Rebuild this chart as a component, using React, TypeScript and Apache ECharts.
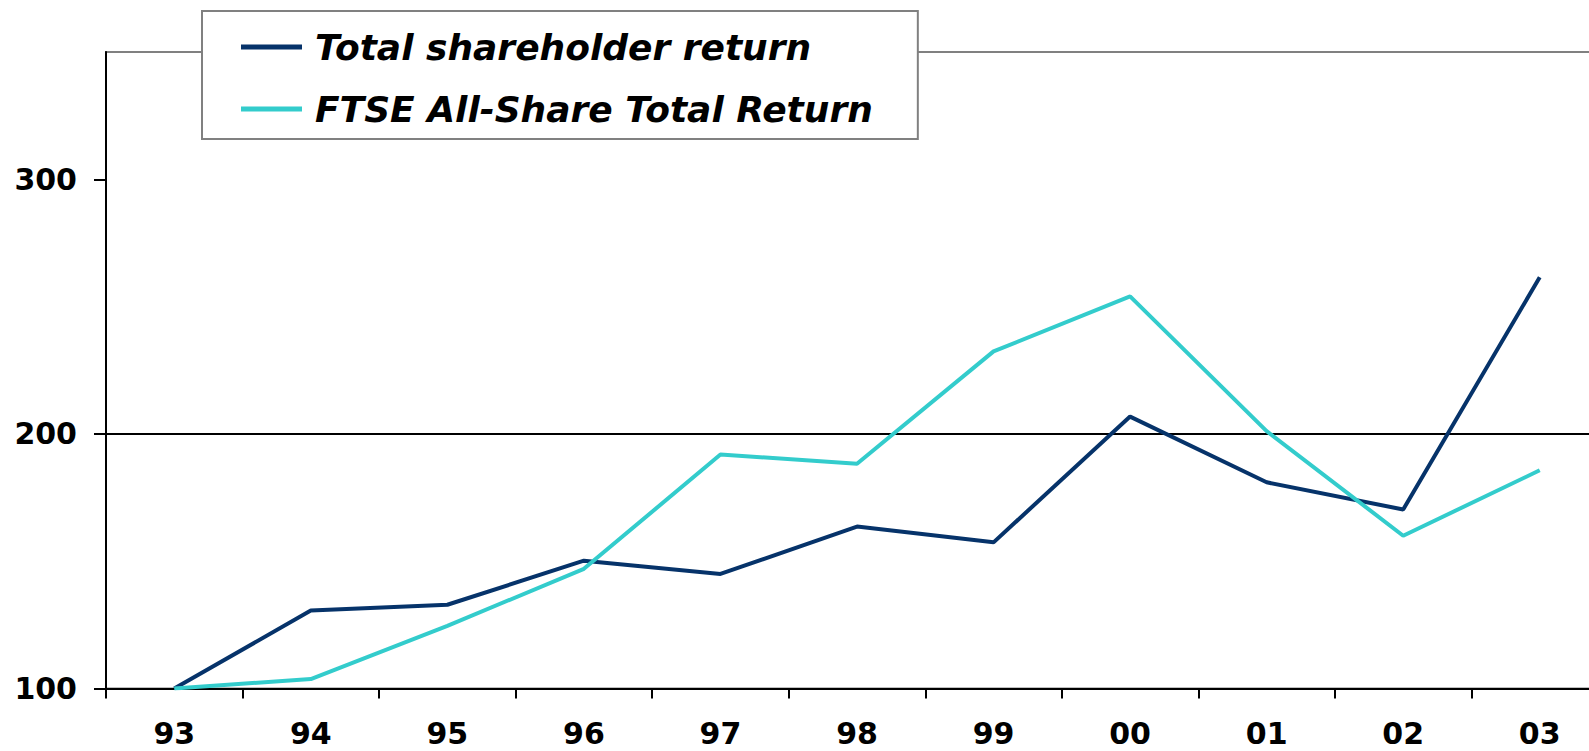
import React, { useEffect, useRef } from "react";
import * as echarts from "echarts";

const categories = ["93", "94", "95", "96", "97", "98", "99", "00", "01", "02", "03"];
const tsrValues = [100, 130.6, 132.9, 150.2, 145.0, 163.6, 157.4, 206.8, 181.0, 170.3, 261.5];
const ftseValues = [100, 103.7, 124.6, 147.0, 191.9, 188.3, 232.4, 254.0, 201.1, 160.0, 185.7];
const yTicks = [100, 200, 300];
const seriesNames = ["Total shareholder return", "FTSE All-Share Total Return"];

export default function App() {
  const ref = useRef<HTMLDivElement>(null);
  useEffect(() => {
    if (!ref.current) return;
    const chart = echarts.init(ref.current, null, { renderer: "svg" });
    chart.setOption({
      animation: false,
      backgroundColor: "#ffffff",
      grid: {
        left: 106,
        top: 52,
        bottom: 62.5,
        right: 0,
        show: true,
        borderColor: "#808080",
        borderWidth: 2,
        backgroundColor: "transparent",
      },
      legend: {
        left: 202,
        top: 11,
        orient: "vertical",
        icon: "rect",
        itemWidth: 61,
        itemHeight: 5,
        itemGap: 22,
        padding: [16, 45, 10, 39],
        backgroundColor: "#ffffff",
        borderColor: "#808080",
        borderWidth: 2,
        borderRadius: 0,
        textStyle: {
          fontFamily: "DejaVu Sans",
          fontSize: 36,
          fontWeight: "bold",
          fontStyle: "italic",
          color: "#000000",
          lineHeight: 40,
          padding: [0, 0, 0, 8],
        },
        data: seriesNames,
      },
      xAxis: {
        type: "category",
        data: categories,
        boundaryGap: true,
        axisLine: { show: true, lineStyle: { color: "#000000", width: 2 } },
        axisTick: { show: true, length: 10, lineStyle: { color: "#000000", width: 2 } },
        axisLabel: {
          margin: 30,
          fontFamily: "DejaVu Sans",
          fontSize: 30,
          fontWeight: "bold",
          color: "#000000",
        },
        splitLine: { show: false },
      },
      yAxis: {
        type: "value",
        min: 100,
        max: 350,
        interval: 100,
        axisLine: { show: true, lineStyle: { color: "#000000", width: 2 } },
        axisTick: {
          show: true,
          length: 12,
          customValues: yTicks,
          lineStyle: { color: "#000000", width: 2 },
        },
        axisLabel: {
          margin: 29,
          customValues: yTicks,
          fontFamily: "DejaVu Sans",
          fontSize: 30,
          fontWeight: "bold",
          color: "#000000",
        },
        splitLine: {
          show: true,
          showMaxLine: false,
          lineStyle: { color: "#000000", width: 2 },
        },
      },
      series: [
        {
          name: seriesNames[0],
          type: "line",
          data: tsrValues,
          showSymbol: false,
          symbol: "none",
          itemStyle: { color: "#06336A" },
          lineStyle: { color: "#06336A", width: 4 },
        },
        {
          name: seriesNames[1],
          type: "line",
          data: ftseValues,
          showSymbol: false,
          symbol: "none",
          itemStyle: { color: "#33CCCC" },
          lineStyle: { color: "#33CCCC", width: 4 },
        },
      ],
    });
    return () => chart.dispose();
  }, []);
  return (
    <div
      ref={ref}
      style={{ position: "fixed", left: 0, top: 0, width: 1608, height: 751 }}
    />
  );
}
